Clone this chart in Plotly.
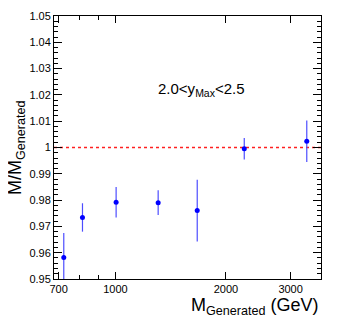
import numpy as np
import plotly.graph_objects as go

# dados
m_gerado = [723, 813, 1004, 1307, 1670, 2243, 3320]
razao = [0.9582, 0.9734, 0.9792, 0.9790, 0.9760, 0.9995, 1.0024]
erro = [0.0093, 0.0054, 0.0058, 0.0047, 0.0117, 0.0041, 0.0079]

x_ticks = [700, 1000, 2000, 3000]
x_minor = [800, 900]
x_range = [680, 3630]

# a página tem margem de 8px no body, então compensamos
OFF = 8
W, H = 338 - OFF, 322 - OFF
ML, MR, MT, MB = 54 - OFF, 17, 16 - OFF, 43

fig = go.Figure()

# linha de referência em 1
fig.add_trace(go.Scatter(
    x=x_range, y=[1, 1], mode="lines",
    line=dict(color="#ff2020", width=1.5, dash="dot"),
    hoverinfo="skip", showlegend=False
))

fig.add_trace(go.Scatter(
    x=m_gerado, y=razao, mode="markers",
    marker=dict(color="#0000ff", size=5),
    error_y=dict(type="data", array=erro, color="#4d4dff", thickness=1.2, width=0),
    showlegend=False, cliponaxis=True
))

eixo = dict(showline=True, linecolor="black", linewidth=1, mirror="ticks",
            ticks="inside", tickcolor="black", showgrid=False, zeroline=False,
            automargin=False,
            tickfont=dict(family="Liberation Sans, Arial", size=11, color="black"))

fig.update_xaxes(
    type="log", range=[np.log10(x_range[0]), np.log10(x_range[1])],
    tickvals=x_ticks, ticktext=[str(v) for v in x_ticks], ticklen=7,
    minor=dict(tickvals=x_minor, ticks="inside", ticklen=4, tickcolor="black"),
    **eixo
)
fig.update_yaxes(
    range=[0.95, 1.05], tickvals=list(np.round(np.arange(0.95, 1.0501, 0.01), 2)),
    ticktext=["0.95", "0.96", "0.97", "0.98", "0.99", "1", "1.01", "1.02", "1.03", "1.04", "1.05"],
    ticklen=8,
    minor=dict(dtick=0.002, ticks="inside", ticklen=4, tickcolor="black"),
    **eixo
)

fig.update_layout(
    width=W, height=H,
    margin=dict(l=ML, r=MR, t=MT, b=MB),
    plot_bgcolor="white", paper_bgcolor="white",
    font=dict(family="Liberation Sans, Arial", color="black"),
    annotations=[
        dict(text="2.0&lt;y<sub>Max</sub>&lt;2.5", x=201, y=90,
             showarrow=False, font=dict(size=15), xanchor="center", yanchor="middle"),
        dict(text="M<sub>Generated</sub> (GeV)", x=321, y=306, showarrow=False,
             font=dict(size=18), xanchor="right", yanchor="middle"),
        dict(text="M/M<sub>Generated</sub>", x=16, y=148, showarrow=False, textangle=-90,
             font=dict(size=18), xanchor="center", yanchor="middle"),
    ]
)

# posições das anotações em pixels da tela -> paper
w_plot = W - ML - MR
h_plot = H - MT - MB
for a in fig.layout.annotations:
    a.x = (a.x - OFF - ML) / w_plot
    a.y = 1 - (a.y - OFF - MT) / h_plot
    a.xref = "paper"
    a.yref = "paper"

fig.write_html("out.html")
